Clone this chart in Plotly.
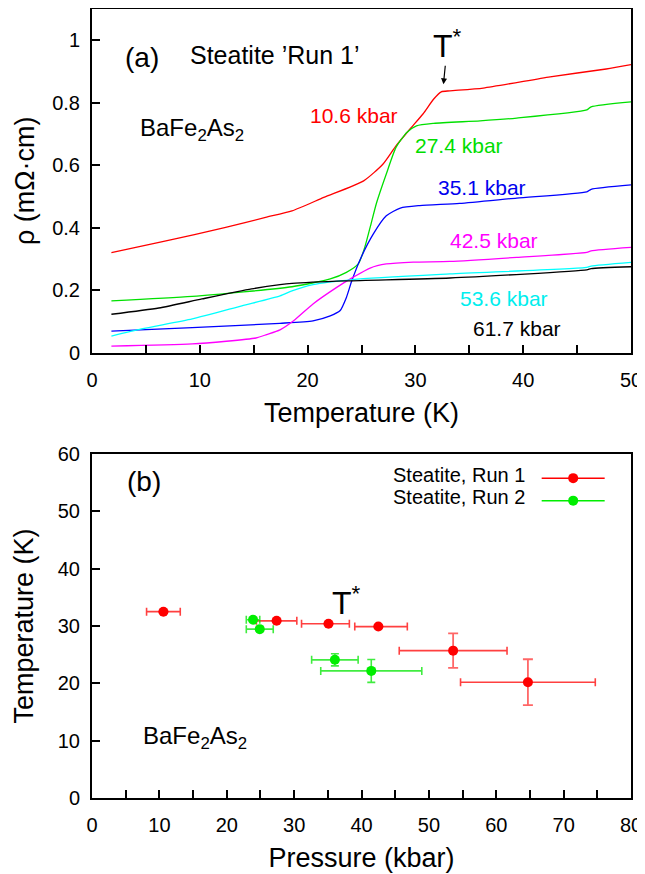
import plotly.graph_objects as go

# ---------------- Panel (a): resistivity curves ----------------
red_T   = [1.8, 6.65, 12.4, 16.1, 18.55, 21.5, 25.2, 27.0, 28.2, 29.5, 30.7, 31.7, 32.4, 33.2, 36.3, 42.5, 47.7, 50.0]
red_rho = [0.320, 0.356, 0.401, 0.433, 0.454, 0.497, 0.550, 0.604, 0.662, 0.716, 0.764, 0.812, 0.835, 0.838, 0.847, 0.883, 0.908, 0.922]

green_T   = [1.8, 9.3, 18.55, 22.1, 23.6, 24.7, 25.3, 25.8, 26.4, 27.3, 28.2, 29.2, 30.1, 31.7, 36.0, 39.4, 45.9, 46.3, 50.0]
green_rho = [0.166, 0.180, 0.211, 0.236, 0.257, 0.284, 0.337, 0.401, 0.480, 0.572, 0.657, 0.705, 0.726, 0.734, 0.742, 0.751, 0.777, 0.787, 0.803]

blue_T   = [1.8, 9.3, 17.44, 20.5, 22.1, 23.0, 23.6, 24.1, 24.9, 26.1, 27.3, 28.6, 30.4, 34.1, 39.4, 45.9, 46.3, 50.0]
blue_rho = [0.069, 0.080, 0.094, 0.102, 0.118, 0.134, 0.177, 0.230, 0.300, 0.380, 0.438, 0.463, 0.471, 0.478, 0.495, 0.515, 0.523, 0.537]

mag_T   = [1.8, 9.3, 15.2, 16.2, 17.44, 18.7, 20.5, 22.7, 24.2, 25.8, 27.3, 29.8, 33.2, 39.4, 45.9, 46.3, 50.0]
mag_rho = [0.021, 0.028, 0.047, 0.058, 0.073, 0.102, 0.156, 0.209, 0.241, 0.271, 0.284, 0.290, 0.292, 0.305, 0.321, 0.326, 0.337]

cyan_T   = [1.8, 4.6, 9.3, 13.9, 17.44, 18.55, 20.5, 24.2, 33.2, 45.9, 46.3, 50.0]
cyan_rho = [0.053, 0.076, 0.108, 0.150, 0.182, 0.198, 0.218, 0.234, 0.252, 0.273, 0.277, 0.289]

black_T   = [1.8, 6.2, 10.2, 14.8, 17.44, 18.55, 23.6, 33.2, 45.9, 46.3, 50.0]
black_rho = [0.123, 0.143, 0.172, 0.204, 0.218, 0.222, 0.230, 0.239, 0.265, 0.269, 0.275]

curve_labels = ["10.6 kbar", "27.4 kbar", "35.1 kbar", "42.5 kbar", "53.6 kbar", "61.7 kbar"]
curve_colors = ["#ff0000", "#00e000", "#0000ff", "#ff00ff", "#00ffff", "#000000"]
label_colors = ["#ff0000", "#00dd00", "#0000ee", "#ff00ff", "#00eeee", "#000000"]
label_T   = [24.26, 34.09, 36.15, 37.29, 38.2, 39.47]
label_rho = [0.760, 0.663, 0.528, 0.359, 0.172, 0.079]

# ---------------- Panel (b): T* vs pressure ----------------
run1_P       = [10.6, 27.4, 35.1, 42.5, 53.6, 64.7]
run1_T       = [32.5, 30.9, 30.4, 29.9, 25.7, 20.2]
run1_P_plus  = [2.5, 3.0, 3.1, 4.3, 8.0, 10.0]
run1_P_minus = [2.5, 3.0, 4.0, 3.5, 8.0, 10.0]
run1_T_err   = [None, None, None, None, 3.0, 4.0]

run2_P     = [23.9, 24.9, 36.05, 41.45]
run2_T     = [31.1, 29.45, 24.1, 22.17]
run2_P_err = [1.0, 2.0, 3.45, 7.5]
run2_T_err = [None, None, 1.05, 2.0]

legend_names = ["Steatite, Run 1", "Steatite, Run 2"]

FONT = "Liberation Sans, Arial, Helvetica, sans-serif"

fig = go.Figure()

curves = [(red_T, red_rho), (green_T, green_rho), (blue_T, blue_rho),
          (mag_T, mag_rho), (cyan_T, cyan_rho), (black_T, black_rho)]
for (T, r), name, col in zip(curves, curve_labels, curve_colors):
    fig.add_trace(go.Scatter(x=T, y=r, mode="lines", name=name,
                             line=dict(color=col, width=1.3, shape="spline", smoothing=0.6),
                             showlegend=False, xaxis="x", yaxis="y"))

fig.add_trace(go.Scatter(
    x=run1_P, y=run1_T, mode="markers", name=legend_names[0], showlegend=False,
    marker=dict(color="#ff0000", size=10),
    error_x=dict(type="data", symmetric=False, array=run1_P_plus, arrayminus=run1_P_minus,
                 color="rgba(255,0,0,0.75)", thickness=1.6, width=4),
    error_y=dict(type="data", array=run1_T_err, color="rgba(255,0,0,0.6)", thickness=1.8, width=5),
    xaxis="x2", yaxis="y2"))
fig.add_trace(go.Scatter(
    x=run2_P, y=run2_T, mode="markers", name=legend_names[1], showlegend=False,
    marker=dict(color="#00ee00", size=10),
    error_x=dict(type="data", array=run2_P_err, color="rgba(0,230,0,0.75)", thickness=1.6, width=4),
    error_y=dict(type="data", array=run2_T_err, color="rgba(0,230,0,0.75)", thickness=1.6, width=4),
    xaxis="x2", yaxis="y2"))

# legend keys (no data, only the legend symbol: line through a dot)
for col in ["#ff0000", "#00ee00"]:
    fig.add_trace(go.Scatter(x=[None], y=[None], mode="lines+markers", name=" ",
                             line=dict(color=col, width=1.5),
                             marker=dict(color=col, size=10),
                             xaxis="x2", yaxis="y2", showlegend=True))

axis_common = dict(showline=True, linecolor="black", linewidth=2, mirror=True,
                   ticks="inside", ticklen=8, tickwidth=1.5, tickcolor="black",
                   showgrid=False, zeroline=False, automargin=False,
                   tickfont=dict(family=FONT, size=20, color="black"))
minor_common = dict(dtick=5, ticks="inside", ticklen=8, tickwidth=1.5, tickcolor="black")

fig.update_layout(
    template="none",
    width=637, height=866,
    margin=dict(l=84, r=14, t=1, b=76),
    paper_bgcolor="white", plot_bgcolor="white",
    font=dict(family=FONT, color="black"),
    xaxis=dict(domain=[0, 1], range=[0, 50], dtick=10, anchor="y",
               minor=minor_common, ticklabelstandoff=8,
               title=dict(text="Temperature (K)", font=dict(size=27), standoff=13),
               **axis_common),
    yaxis=dict(domain=[0.5644, 1], range=[0, 1.1], dtick=0.2, anchor="x",
               ticklabelstandoff=6,
               title=dict(text="ρ (mΩ·cm)", font=dict(size=27), standoff=10),
               **axis_common),
    xaxis2=dict(domain=[0, 1], range=[0, 80], dtick=10, anchor="y2",
                minor=minor_common, ticklabelstandoff=8,
                title=dict(text="Pressure (kbar)", font=dict(size=27), standoff=13),
                **axis_common),
    yaxis2=dict(domain=[0, 0.436], range=[0, 60], dtick=10, anchor="x2",
                ticklabelstandoff=6,
                title=dict(text="Temperature (K)", font=dict(size=27), standoff=16),
                **axis_common),
    legend=dict(x=0.825, xanchor="left", y=0.426, yanchor="top",
                bgcolor="rgba(0,0,0,0)", font=dict(family=FONT, size=15),
                tracegroupgap=0, itemwidth=63),
)

ann = []
for txt, col, tx, ty in zip(curve_labels, label_colors, label_T, label_rho):
    ann.append(dict(x=tx, y=ty, xref="x", yref="y", text=txt, showarrow=False,
                    font=dict(size=21, color=col, family=FONT)))
ann += [
    dict(x=4.68, y=0.945, xref="x", yref="y", text="(a)", showarrow=False, font=dict(size=28)),
    dict(x=16.98, y=0.952, xref="x", yref="y", text="Steatite ’Run 1’", showarrow=False, font=dict(size=25)),
    dict(x=9.32, y=0.715, xref="x", yref="y", text="BaFe<sub>2</sub>As<sub>2</sub>", showarrow=False, font=dict(size=24)),
    dict(x=32.6, y=0.859, xref="x", yref="y", text="T<sup>*</sup>", showarrow=True,
         ax=4, ay=-40, arrowhead=2, arrowsize=1, arrowwidth=1.2, arrowcolor="black",
         font=dict(size=32)),
    dict(x=7.79, y=55.2, xref="x2", yref="y2", text="(b)", showarrow=False, font=dict(size=28)),
    dict(x=15.3, y=10.6, xref="x2", yref="y2", text="BaFe<sub>2</sub>As<sub>2</sub>", showarrow=False, font=dict(size=24)),
    dict(x=37.76, y=34.3, xref="x2", yref="y2", text="T<sup>*</sup>", showarrow=False, font=dict(size=32)),
]
# legend texts, placed to the left of the legend keys
for name, yp in zip(legend_names, [0.4094, 0.3821]):
    ann.append(dict(x=0.807, y=yp, xref="paper", yref="paper", text=name, showarrow=False,
                    xanchor="right", yanchor="middle", font=dict(size=20)))
fig.update_layout(annotations=ann)

fig.write_html("out.html")
